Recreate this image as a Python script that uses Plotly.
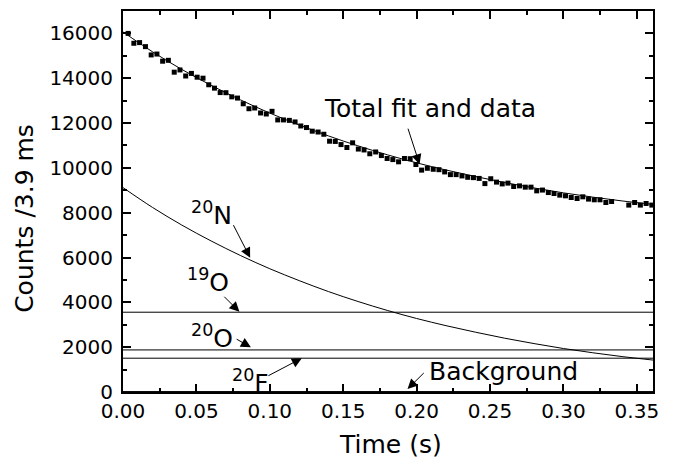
import plotly.graph_objects as go

# ---- data ----
time_s = [0.0035, 0.0074, 0.0113, 0.0153, 0.0192, 0.0231, 0.0270, 0.0309, 0.0349, 0.0388,
          0.0427, 0.0466, 0.0505, 0.0545, 0.0584, 0.0623, 0.0662, 0.0701, 0.0741, 0.0780,
          0.0819, 0.0858, 0.0897, 0.0937, 0.0976, 0.1015, 0.1054, 0.1093, 0.1133, 0.1172,
          0.1211, 0.1250, 0.1289, 0.1329, 0.1368, 0.1407, 0.1446, 0.1485, 0.1525, 0.1564,
          0.1603, 0.1642, 0.1681, 0.1721, 0.1760, 0.1799, 0.1838, 0.1877, 0.1917, 0.1956,
          0.1995, 0.2034, 0.2073, 0.2113, 0.2152, 0.2191, 0.2230, 0.2269, 0.2309, 0.2348,
          0.2387, 0.2426, 0.2465, 0.2505, 0.2544, 0.2583, 0.2622, 0.2661, 0.2701, 0.2740,
          0.2779, 0.2818, 0.2857, 0.2897, 0.2936, 0.2975, 0.3014, 0.3053, 0.3093, 0.3132,
          0.3171, 0.3210, 0.3249, 0.3289, 0.3328, 0.3367, 0.3406, 0.3445, 0.3485, 0.3524,
          0.3563, 0.3602]
counts = [16000, 15560, 15590, 15410, 15040, 15080, 14760, 14800, 14270, 14370,
          14100, 14215, 14046, 14002, 13709, 13558, 13360, 13355, 13170, 13115,
          12860, 12640, 12673, 12450, 12405, 12524, 12140, 12140, 12120, 12050,
          11870, 11800, 11637, 11600, 11500, 11190, 11180, 11040, 10910, 11118,
          10840, 10800, 10630, 10710, 10550, 10420, 10370, 10270, 10420, 10410,
          10150, 9900, 9982, 9938, 9920, 9820, 9700, 9700, 9641, 9580,
          9565, 9530, 9299, 9515, 9365, 9285, 9320, 9170, 9197, 9140,
          9140, 8975, 9010, 8900, 8856, 8784, 8753, 8678, 8633, 8709,
          8607, 8576, 8576, 8456, 8500, None, None, 8340, 8456, 8340,
          8412, 8340]

fit_time = [0.0, 0.02, 0.04, 0.06, 0.08, 0.10, 0.12, 0.14, 0.16, 0.18,
            0.20, 0.22, 0.24, 0.26, 0.28, 0.30, 0.32, 0.34, 0.361]
total_fit = [16065, 15185, 14395, 13685, 13035, 12445, 11915, 11425, 10985, 10585,
             10225, 9905, 9615, 9345, 9105, 8885, 8695, 8525, 8370]
n20_fit = [9120, 8240, 7450, 6740, 6090, 5500, 4970, 4480, 4040, 3640,
           3280, 2960, 2670, 2400, 2160, 1940, 1750, 1580, 1425]

flat_time = [0.0, 0.361]
o19_level = [3560, 3560]
o20_level = [1877, 1877]
f20_level = [1508, 1508]
bg_level = [20, 20]

x_ticks = [0.0, 0.05, 0.10, 0.15, 0.20, 0.25, 0.30, 0.35]
y_ticks = [0, 2000, 4000, 6000, 8000, 10000, 12000, 14000, 16000]

FONT = "DejaVu Sans"

fig = go.Figure()
for xs, ys, shp in [(flat_time, o19_level, "linear"), (flat_time, o20_level, "linear"),
                    (flat_time, f20_level, "linear"), (flat_time, bg_level, "linear"),
                    (fit_time, n20_fit, "spline"), (fit_time, total_fit, "spline")]:
    fig.add_trace(go.Scatter(x=xs, y=ys, mode="lines",
                             line=dict(color="black", width=1, shape=shp),
                             showlegend=False, hoverinfo="skip"))
fig.add_trace(go.Scatter(x=time_s, y=counts, mode="markers",
                         marker=dict(symbol="square", size=5, color="black"),
                         showlegend=False))

axis_common = dict(showline=True, linecolor="black", linewidth=2, mirror="allticks",
                   ticks="inside", ticklen=8, tickwidth=1.5, tickcolor="black",
                   showgrid=False, zeroline=False,
                   tickfont=dict(family=FONT, size=20, color="black"))
fig.update_xaxes(range=[0, 0.361], tickvals=x_ticks,
                 ticktext=[f"{v:.2f}" for v in x_ticks],
                 minor=dict(ticks="inside", ticklen=4, tickwidth=1.5, tickcolor="black",
                            tickvals=[0.025, 0.075, 0.125, 0.175, 0.225, 0.275, 0.325]),
                 **axis_common)
fig.update_yaxes(range=[0, 17000], tickvals=y_ticks,
                 ticktext=[str(v) for v in y_ticks],
                 ticklabelstandoff=4,
                 minor=dict(ticks="inside", ticklen=4, tickwidth=1.5, tickcolor="black",
                            tickvals=[1000, 3000, 5000, 7000, 9000, 11000, 13000, 15000, 17000]),
                 **axis_common)

big = dict(family=FONT, size=25, color="black")
texts = [
    ("Total fit and data", 0.2093, 12657),
    ("Background", 0.2591, 901),
    ("<sup>20</sup>N", 0.0603, 7955),
    ("<sup>19</sup>O", 0.0580, 4982),
    ("<sup>20</sup>O", 0.0607, 2476),
    ("<sup>20</sup>F", 0.0866, 458),
]
for t, x, y in texts:
    fig.add_annotation(x=x, y=y, text=t, showarrow=False, font=big,
                       xanchor="center", yanchor="middle")

arrows = [
    (0.2020, 10160, 0.1938, 11815),
    (0.0866, 5989, 0.0747, 7511),
    (0.0793, 3576, 0.0680, 4317),
    (0.0871, 1996, 0.0764, 2396),
    (0.1218, 1508, 0.0980, 692),
    (0.1938, 133, 0.2059, 914),
]
for hx, hy, tx, ty in arrows:
    fig.add_annotation(x=hx, y=hy, ax=tx, ay=ty, axref="x", ayref="y", text="",
                       showarrow=True, arrowhead=2, arrowsize=2, arrowwidth=1,
                       arrowcolor="black", standoff=0, startstandoff=0)

fig.add_annotation(xref="paper", yref="paper", x=-0.185, y=0.457, text="Counts /3.9 ms",
                   textangle=-90, showarrow=False, font=big, xanchor="center", yanchor="middle")
fig.add_annotation(xref="paper", yref="paper", x=0.504, y=-0.137, text="Time (s)",
                   showarrow=False, font=big, xanchor="center", yanchor="middle")

fig.update_layout(width=676, height=464, margin=dict(l=123, r=23, t=9, b=72),
                  plot_bgcolor="white", paper_bgcolor="white", font=dict(family=FONT))
fig.write_html("out.html")
